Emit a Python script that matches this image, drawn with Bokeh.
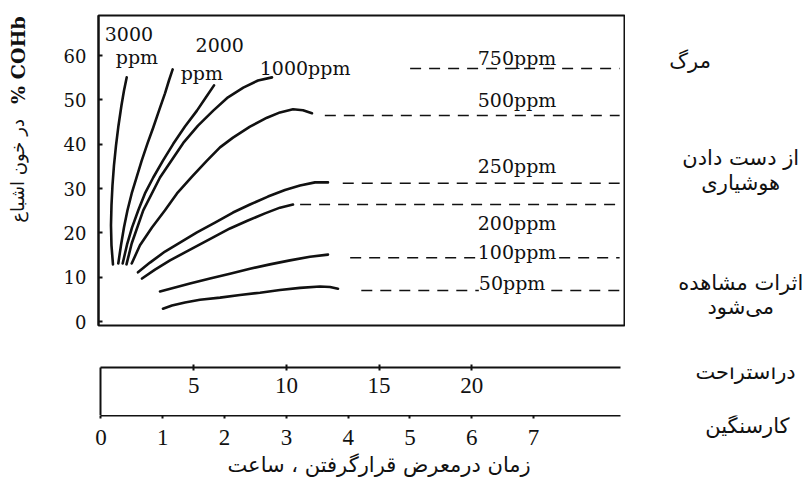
import math
from bokeh.plotting import figure
from bokeh.models import Range1d, LinearAxis, FixedTicker, Label
from bokeh.layouts import column, row
from bokeh.core.properties import value
from bokeh.embed import file_html
from bokeh.resources import INLINE

# ---------------- data ----------------
# exposure time in hours (heavy-work scale) and % COHb saturation
ppm_names = ["3000", "2000", "1000", "750", "500", "250", "200", "100", "50"]

h_3000 = [0.202, 0.178, 0.170, 0.178, 0.194, 0.218, 0.251, 0.291, 0.340, 0.380, 0.424]
c_3000 = [12.9, 17.2, 21.7, 26.2, 30.7, 35.2, 39.7, 44.2, 48.8, 52.1, 55.1]

h_2000 = [0.288, 0.332, 0.380, 0.437, 0.505, 0.583, 0.667, 0.761, 0.854, 0.947, 1.044, 1.108, 1.168]
c_2000 = [13.1, 17.2, 21.2, 25.1, 28.9, 32.5, 36.3, 40.2, 43.8, 47.6, 51.5, 54.4, 56.9]

h_1000 = [0.359, 0.434, 0.510, 0.612, 0.720, 0.854, 1.011, 1.178, 1.367, 1.561, 1.707, 1.837]
c_1000 = [13.1, 17.6, 21.2, 25.1, 28.9, 32.5, 36.3, 40.1, 44.0, 47.6, 50.6, 53.3]

h_750 = [0.421, 0.505, 0.692, 0.963, 1.340, 1.578, 1.825, 2.063, 2.311, 2.549, 2.775]
c_750 = [12.9, 17.6, 25.1, 32.5, 40.3, 44.2, 47.6, 50.6, 52.8, 54.4, 55.1]

h_500 = [0.505, 0.639, 0.833, 1.044, 1.238, 1.481, 1.723, 1.934, 2.144, 2.419, 2.694, 2.905, 3.115, 3.277, 3.422]
c_500 = [13.1, 17.2, 21.2, 25.1, 28.9, 32.7, 36.3, 39.3, 41.5, 44.0, 46.0, 47.2, 47.9, 47.7, 47.0]

h_250 = [0.607, 0.801, 1.044, 1.286, 1.561, 1.853, 2.144, 2.419, 2.710, 2.985, 3.228, 3.471, 3.681]
c_250 = [11.1, 13.3, 15.8, 17.8, 20.1, 22.3, 24.6, 26.4, 28.2, 29.7, 30.7, 31.4, 31.4]

h_200 = [0.672, 0.882, 1.125, 1.367, 1.610, 1.853, 2.095, 2.386, 2.662, 2.904, 3.115]
c_200 = [9.7, 11.7, 13.8, 15.6, 17.4, 19.2, 21.0, 22.8, 24.4, 25.7, 26.4]

h_100 = [0.963, 1.206, 1.448, 1.772, 2.095, 2.419, 2.742, 3.066, 3.390, 3.681]
c_100 = [6.8, 7.7, 8.6, 9.7, 10.8, 11.9, 12.9, 13.8, 14.6, 15.1]

h_50 = [1.011, 1.157, 1.367, 1.610, 1.934, 2.257, 2.581, 2.904, 3.228, 3.552, 3.714, 3.843]
c_50 = [2.9, 3.6, 4.3, 4.9, 5.4, 6.0, 6.5, 7.1, 7.6, 7.9, 7.8, 7.4]

# equilibrium (dashed) levels: start hour and % COHb
eq_names = ["750", "500", "250", "200", "100", "50"]
eq_start = [5.01, 3.63, 3.92, 3.23, 4.04, 4.22]
eq_level = [57.1, 46.5, 31.2, 26.4, 14.4, 7.0]

y_ticks = [0, 10, 20, 30, 40, 50, 60]
heavy_ticks = [0, 1, 2, 3, 4, 5, 6, 7]
rest_ticks = [5, 10, 15, 20]

effect_lines = ["مرگ", "از دست دادن", "هوشیاری", "اثرات مشاهده", "می\u200cشود"]
scale_labels = ["دراستراحت", "کارسنگین"]
x_title = "زمان درمعرض قرارگرفتن ، ساعت"
y_title_fa = "در خون اشباع"
y_title_en = "% COHb"

INK = "#111111"
SERIF = "DejaVu Serif"
TSERIF = "Liberation Serif"
SANS = "DejaVu Sans"
PX_H = 61.8            # pixels per hour (heavy-work scale)


def bare(fig):
    fig.grid.visible = False
    fig.outline_line_color = None
    fig.background_fill_color = "white"
    fig.border_fill_color = "white"


def borders(fig, left, right, top, bottom):
    fig.min_border = 0
    fig.min_border_left = left
    fig.min_border_right = right
    fig.min_border_top = top
    fig.min_border_bottom = bottom


# ---------------- main chart ----------------
H0, H1 = -0.032, 8.495
Y0, Y1 = -0.9, 69.07
p = figure(frame_width=527, frame_height=310,
           x_range=Range1d(H0, H1), y_range=Range1d(Y0, Y1),
           x_axis_location=None, y_axis_location="left",
           output_backend="svg", toolbar_location=None)
borders(p, 58, 0, 15, 15)
p.grid.visible = False
p.outline_line_color = INK
p.outline_line_width = 2
p.outline_line_alpha = 1
p.background_fill_color = "white"
p.border_fill_color = "white"

ya = p.yaxis[0]
ya.ticker = FixedTicker(ticks=y_ticks)
ya.major_tick_in = 4
ya.major_tick_out = 0
ya.major_tick_line_width = 2
ya.major_tick_line_color = INK
ya.minor_tick_line_color = None
ya.axis_line_width = 2
ya.axis_line_color = INK
ya.major_label_text_font = SERIF
ya.major_label_text_font_size = "18px"
ya.major_label_text_color = INK
ya.major_label_standoff = 12

curves = [(h_3000, c_3000), (h_2000, c_2000), (h_1000, c_1000), (h_750, c_750),
          (h_500, c_500), (h_250, c_250), (h_200, c_200), (h_100, c_100), (h_50, c_50)]
for hh, cc in curves:
    p.line(hh, cc, line_color=INK, line_width=2.6, line_cap="round", line_join="round")

dash_end = 8.40
for s, lv in zip(eq_start, eq_level):
    p.line([s, dash_end], [lv, lv], line_color=INK, line_width=1.6, line_dash="11 8")


def add_label(fig, x, y, text, font, size, bg=None):
    lab = Label(x=x, y=y, text=text, text_font=font, text_font_size=size,
                text_color=INK, text_align="center", text_baseline="middle")
    if bg is not None:
        lab.background_fill_color = bg
    fig.add_layout(lab)


add_label(p, 0.46, 65.0, ppm_names[0], SERIF, "19px")
add_label(p, 0.59, 59.6, "ppm", SERIF, "19px")
add_label(p, 1.93, 62.3, ppm_names[1], SERIF, "19px")
add_label(p, 1.64, 56.0, "ppm", SERIF, "19px")
add_label(p, 3.31, 57.3, ppm_names[2] + "ppm", SERIF, "19px")
add_label(p, 6.74, 59.4, ppm_names[3] + "ppm", SERIF, "19px")
add_label(p, 6.74, 49.9, ppm_names[4] + "ppm", SERIF, "19px")
add_label(p, 6.74, 35.2, ppm_names[5] + "ppm", SERIF, "19px")
add_label(p, 6.74, 22.3, ppm_names[6] + "ppm", SERIF, "19px")
add_label(p, 6.74, 15.6, ppm_names[7] + "ppm", SERIF, "19px", bg="white")
add_label(p, 6.66, 8.6, ppm_names[8] + "ppm", SERIF, "19px", bg="white")

# ---------------- left panel: rotated y title ----------------
L1 = figure(frame_width=40, frame_height=310,
            x_range=Range1d(H0 - 98 / PX_H, H0 - 58 / PX_H), y_range=p.y_range,
            x_axis_location=None, y_axis_location=None,
            output_backend="svg", toolbar_location=None)
bare(L1)
borders(L1, 0, 0, 15, 15)
L1.text(x=[-1.335], y=[34.0], text=[y_title_fa], angle=math.pi / 2,
        text_font=value(SANS), text_font_size="18px", text_color=INK,
        text_align="center", text_baseline="middle")
L1.text(x=[-1.335], y=[59.0], text=[y_title_en], angle=math.pi / 2,
        text_font=value(SERIF), text_font_size="19px", text_font_style="bold",
        text_color=INK, text_align="center", text_baseline="middle")

# ---------------- right panel: effect labels ----------------
R1 = figure(frame_width=179, frame_height=310,
            x_range=Range1d(H1, H1 + 179 / PX_H), y_range=p.y_range,
            x_axis_location=None, y_axis_location=None,
            output_backend="svg", toolbar_location=None)
bare(R1)
borders(R1, 0, 0, 15, 15)
R1.text(x=[9.54, 10.36, 10.36, 10.36, 10.36], y=[58.9, 36.8, 31.2, 8.8, 3.2],
        text=effect_lines, text_font=value(SANS), text_font_size="21px",
        text_color=INK, text_align="center", text_baseline="middle")

# ---------------- time scales below ----------------
B0 = -0.008
B1 = B0 + 520 / PX_H          # end of the drawn scale lines
BW = B0 + 704 / PX_H          # right edge of the page

# rest scale (hours at rest = heavy-work hours x 10/3)
q = figure(frame_width=704, frame_height=48,
           x_range=Range1d(B0, BW), y_range=Range1d(0, 1),
           x_axis_location=None, y_axis_location="left",
           output_backend="svg", toolbar_location=None)
bare(q)
borders(q, 100, 0, 27, 0)
q.extra_x_ranges = {"rest": Range1d(B0 * 10 / 3, BW * 10 / 3)}

la = q.yaxis[0]
la.ticker = FixedTicker(ticks=[])
la.major_tick_line_color = None
la.minor_tick_line_color = None
la.major_label_text_font_size = "0px"
la.axis_line_width = 2
la.axis_line_color = INK

ra = LinearAxis(x_range_name="rest", ticker=FixedTicker(ticks=rest_ticks),
                bounds=(B0 * 10 / 3, B1 * 10 / 3),
                major_tick_in=3, major_tick_out=3, major_tick_line_width=2,
                major_tick_line_color=INK, minor_tick_line_color=None,
                axis_line_width=2, axis_line_color=INK,
                major_label_text_font_size="0px", major_label_text_alpha=0,
                major_label_standoff=0)
q.add_layout(ra, "above")

q.text(x=rest_ticks, y=[0.62] * len(rest_ticks), text=[str(t) for t in rest_ticks],
       x_range_name="rest", text_font=value(TSERIF), text_font_size="23px",
       text_color=INK, text_align="center", text_baseline="middle")
q.text(x=[10.43], y=[0.896], text=[scale_labels[0]],
       text_font=value(SANS), text_font_size="21px", text_color=INK,
       text_align="center", text_baseline="middle")

# heavy-work scale (frame starts a little further left so the "0" label is not cut)
HQ_LEFT = 70
HB0 = B0 - (100 - HQ_LEFT) / PX_H
hq = figure(frame_width=804 - HQ_LEFT, frame_height=65,
            x_range=Range1d(HB0, BW), y_range=Range1d(-65 / 48, 0),
            x_axis_location=None, y_axis_location=None,
            output_backend="svg", toolbar_location=None)
bare(hq)
borders(hq, HQ_LEFT, 0, 0, 0)
xa = LinearAxis(ticker=FixedTicker(ticks=heavy_ticks), bounds=(B0, B1),
                major_tick_in=3, major_tick_out=0, major_tick_line_width=2,
                major_tick_line_color=INK, minor_tick_line_color=None,
                axis_line_width=2, axis_line_color=INK,
                major_label_text_font_size="0px", major_label_text_alpha=0,
                major_label_standoff=0)
hq.add_layout(xa, "above")
hq.text(x=heavy_ticks, y=[-0.46] * len(heavy_ticks), text=[str(t) for t in heavy_ticks],
        text_font=value(TSERIF), text_font_size="23px", text_color=INK,
        text_align="center", text_baseline="middle")
hq.text(x=[10.46], y=[-0.21], text=[scale_labels[1]],
        text_font=value(SANS), text_font_size="21px", text_color=INK,
        text_align="center", text_baseline="middle")
hq.text(x=[4.50], y=[-1.04], text=[x_title], text_font=value(SANS),
        text_font_size="21px", text_color=INK, text_align="center",
        text_baseline="middle")

layout = column(row(L1, p, R1, spacing=0), q, row(hq, spacing=0), spacing=0)
open("out.html", "w").write(file_html(layout, INLINE))
